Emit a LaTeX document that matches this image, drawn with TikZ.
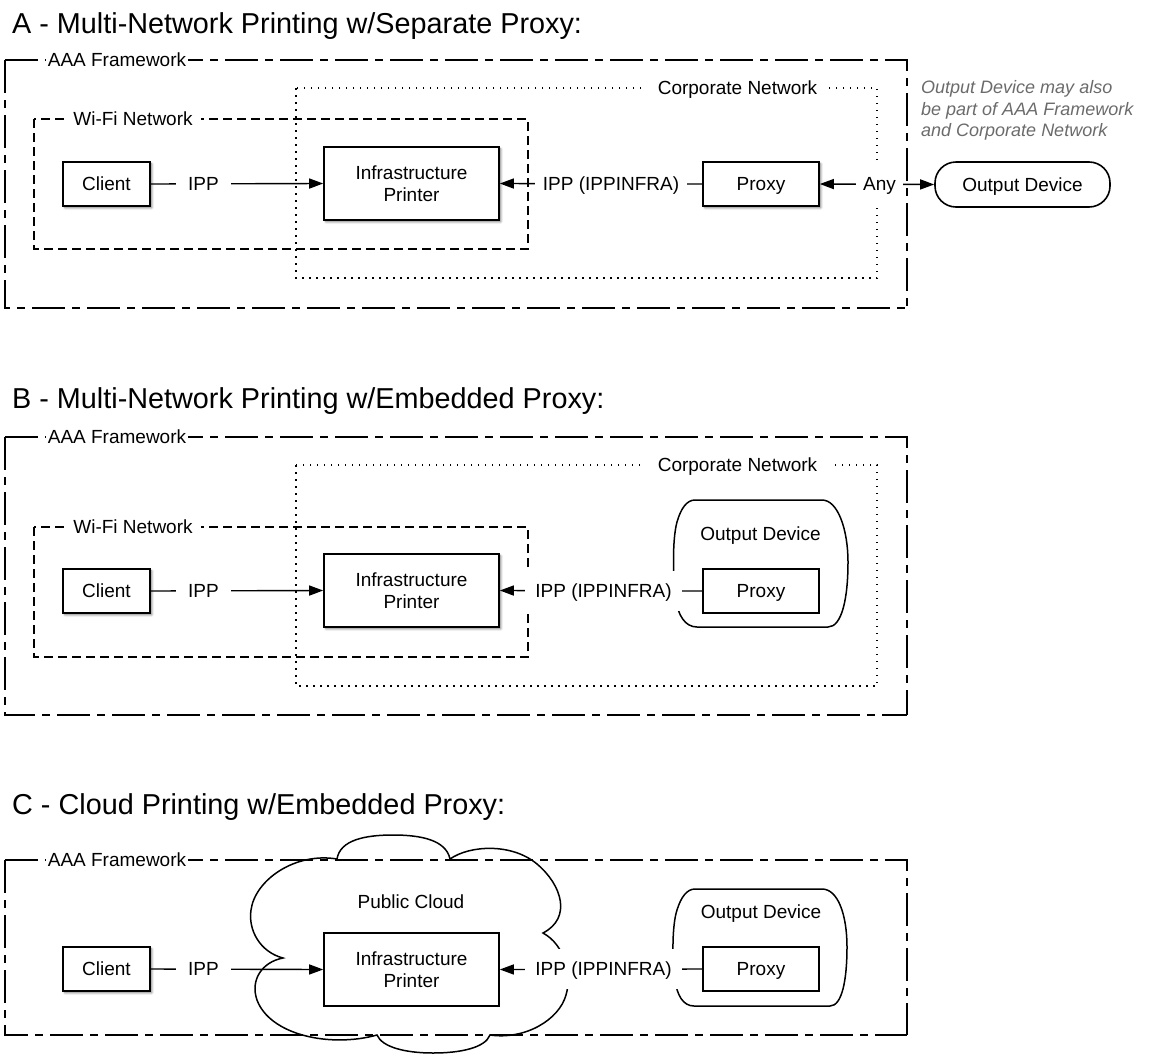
\documentclass[tikz,border=0pt]{standalone}
\usepackage{fontspec}
\setmainfont{Liberation Sans}
\usetikzlibrary{arrows.meta,shadows.blur}
\begin{document}
\begin{tikzpicture}[x=1pt,y=-1pt,
  basefont/.style={font=\fontsize{19}{21.7}\selectfont},
  boxbase/.style={draw, line width=1.6pt, fill=white, basefont},
  box/.style={boxbase, minimum height=44pt, text height=13.6pt, text depth=0pt},
  infra/.style={boxbase, minimum width=175pt, minimum height=73pt, align=center},
  shadowed/.style={blur shadow={shadow xshift=1.8pt, shadow yshift=-1.8pt, shadow blur radius=2.2pt, shadow blur steps=5, shadow opacity=50}},
  conn/.style={line width=1.4pt},
  arr/.style={-{Triangle[length=14pt,width=10pt]}},
  dblarr/.style={{Triangle[length=14pt,width=10pt]}-{Triangle[length=14pt,width=10pt]}},
  lab/.style={fill=white, inner xsep=10pt, inner ysep=13pt, text height=13.6pt, text depth=0pt, basefont},
  framelab/.style={fill=white, inner xsep=8pt, inner ysep=2pt, text height=13.6pt, text depth=0pt, basefont},
  aaa/.style={line width=1.5pt, dash pattern=on 33pt off 7pt on 8pt off 7pt},
  wifi/.style={line width=1.4pt, dash pattern=on 9pt off 5pt},
  corp/.style={line width=1.6pt, dash pattern=on 1.5pt off 5.5pt},
  odshape/.style={line width=1.5pt},
  cloudline/.style={line width=1.5pt},
  titletext/.style={anchor=base west, inner sep=0pt, font=\fontsize{28.8}{31}\selectfont},
  notetext/.style={anchor=north west, inner sep=0pt, align=left, text=black!58, font=\fontsize{18}{21.5}\selectfont\itshape}
]
\useasboundingbox (0,0) rectangle (1154,1055);

% ================= A =================
\node[titletext] (tA) at (12,33) {A - Multi-Network Printing w/Separate Proxy:};
\draw[aaa] (5,60) -- (907,60) -- (907,308);
\draw[aaa] (5,60) -- (5,308) -- (907,308);
\draw[corp] (296,88) rectangle (877,278);
\draw[wifi] (34,119) rectangle (528,249);
\node[framelab, inner xsep=1.5pt] (aaaA) at (117,60) {AAA Framework};
\node[framelab, inner xsep=12pt] (corpA) at (737.5,88) {Corporate Network};
\node[framelab] (wifiA) at (133,119) {Wi-Fi Network};

\node[box, shadowed, minimum width=87pt] (cA) at (106.5,184) {Client};
\node[infra, shadowed] (iA) at (411.5,183.5) {Infrastructure\\Printer};
\node[box, shadowed, minimum width=116pt] (pA) at (761,184) {Proxy};
\node[box, minimum width=175pt, minimum height=45pt, rounded corners=21pt] (oA) at (1022.5,184.5) {Output Device};

\draw[conn,arr] (cA.east) -- (iA.west);
\node[lab, inner xsep=12pt] (ippA) at (203.5,184) {IPP};
\draw[conn,arr] (pA.west) -- (iA.east);
\node[lab, inner xsep=8pt] (infA) at (611,184) {IPP (IPPINFRA)};
\draw[conn,dblarr] (pA.east) -- (oA.west);
\node[lab, inner xsep=7pt, inner ysep=14.5pt] (anyA) at (879.5,184) {Any};

\node[notetext] (note) at (921,80.5) {Output Device may also\\be part of AAA Framework\\and Corporate Network};

% ================= B =================
\node[titletext] (tB) at (12,408) {B - Multi-Network Printing w/Embedded Proxy:};
\draw[aaa] (5,437) -- (907,437) -- (907,715);
\draw[aaa] (5,437) -- (5,715) -- (907,715);
\draw[corp] (296,465) rectangle (877,686);
\draw[wifi] (34,527) rectangle (528,657);
\node[framelab, inner xsep=1.5pt] (aaaB) at (117,437) {AAA Framework};
\node[framelab, inner xsep=12pt] (corpB) at (737.5,465) {Corporate Network};
\node[framelab] (wifiB) at (133,527) {Wi-Fi Network};

\draw[odshape] (695,500) -- (822,500) .. controls (838,500) and (848,530) .. (848,562)
  .. controls (848,598) and (842,627) .. (828,627) -- (697,627)
  .. controls (685,627) and (678,615) .. (676,600)
  .. controls (673,580) and (672,540) .. (677,522)
  .. controls (681,508) and (687,500) .. (695,500) -- cycle;
\node[basefont, text height=13.6pt, text depth=0pt] (oB) at (760.5,534) {Output Device};

\node[box, shadowed, minimum width=87pt] (cB) at (106.5,591) {Client};
\node[infra, shadowed] (iB) at (411.5,590.5) {Infrastructure\\Printer};
\node[box, minimum width=116pt] (pB) at (761,591) {Proxy};

\draw[conn,arr] (cB.east) -- (iB.west);
\node[lab, inner xsep=12pt] (ippB) at (203.5,591) {IPP};
\draw[conn,arr] (pB.west) -- (iB.east);
\node[lab] (infB) at (603.5,591) {IPP (IPPINFRA)};

% ================= C =================
\node[titletext] (tC) at (12,814) {C - Cloud Printing w/Embedded Proxy:};
\draw[aaa] (5,860) -- (907,860) -- (907,1035);
\draw[aaa] (5,860) -- (5,1035) -- (907,1035);
\node[framelab, inner xsep=1.5pt] (aaaC) at (117,860) {AAA Framework};

\draw[cloudline] (337,859)
  .. controls (340,840) and (365,835) .. (393,835)
  .. controls (421,835) and (446,840) .. (450,859)
  .. controls (470,845) and (512,843) .. (537,864)
  .. controls (562,885) and (572,918) .. (543,933)
  .. controls (565,945) and (572,975) .. (566,995)
  .. controls (559,1020) and (525,1040) .. (490,1035)
  .. controls (485,1048) and (460,1053) .. (433,1053)
  .. controls (405,1053) and (382,1047) .. (377,1035)
  .. controls (330,1048) and (270,1035) .. (257,1000)
  .. controls (250,980) and (262,962) .. (283,958)
  .. controls (260,952) and (248,930) .. (251,910)
  .. controls (255,880) and (295,852) .. (337,859) -- cycle;
\node[basefont, text height=13.6pt, text depth=0pt] (cloudC) at (411,902) {Public Cloud};

\draw[odshape] (695,889) -- (822,889) .. controls (838,889) and (847,915) .. (847,947)
  .. controls (847,980) and (842,1006) .. (830,1006) -- (694,1006)
  .. controls (683,1006) and (677,995) .. (675,980)
  .. controls (672,960) and (672,925) .. (677,910)
  .. controls (681,897) and (687,889) .. (695,889) -- cycle;
\node[basefont, text height=13.6pt, text depth=0pt] (oC) at (761,912) {Output Device};

\node[box, shadowed, minimum width=87pt] (cC) at (106.5,969) {Client};
\node[infra] (iC) at (411.5,969.5) {Infrastructure\\Printer};
\node[box, minimum width=116pt] (pC) at (761,969) {Proxy};

\draw[conn,arr] (cC.east) -- (iC.west);
\node[lab, inner xsep=12pt] (ippC) at (203.5,969) {IPP};
\draw[conn,arr] (pC.west) -- (iC.east);
\node[lab] (infC) at (603.5,969) {IPP (IPPINFRA)};
\end{tikzpicture}
\end{document}
